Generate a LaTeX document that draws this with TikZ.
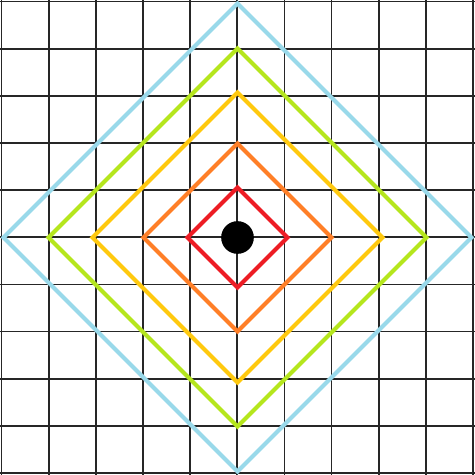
\documentclass[tikz,border=0pt]{standalone}
\definecolor{pred}{RGB}{237,28,36}
\definecolor{porange}{RGB}{255,127,39}
\definecolor{pyellow}{RGB}{255,201,14}
\definecolor{pgreen}{RGB}{181,230,29}
\definecolor{pblue}{RGB}{153,217,234}
\begin{document}
\begin{tikzpicture}[x=0.75pt,y=-0.75pt,
  gridline/.style={black!85,line width=1.3pt},
  ring/.style={line width=3.1pt,line join=miter}]
\fill[white] (0,0) rectangle (475,475);
\useasboundingbox (0,0) rectangle (475,475);
\foreach \k in {0,...,10}{
  \draw[gridline] ({1.5+47.15*\k},-2) -- ({1.5+47.15*\k},477);
  \draw[gridline] (-2,{1.5+47.15*\k}) -- (477,{1.5+47.15*\k});
}
\coordinate (c) at (237.5,237.5);
\foreach \r/\col in {50/pred,94/porange,145/pyellow,189/pgreen,234/pblue}{
  \draw[ring,\col] ([yshift=-\r*0.75pt]c) -- ([xshift=\r*0.75pt]c) -- ([yshift=\r*0.75pt]c) -- ([xshift=-\r*0.75pt]c) -- cycle;
}
\node[circle,fill=black,minimum size=24.5pt,inner sep=0pt] (dot) at (c) {};
\end{tikzpicture}
\end{document}
